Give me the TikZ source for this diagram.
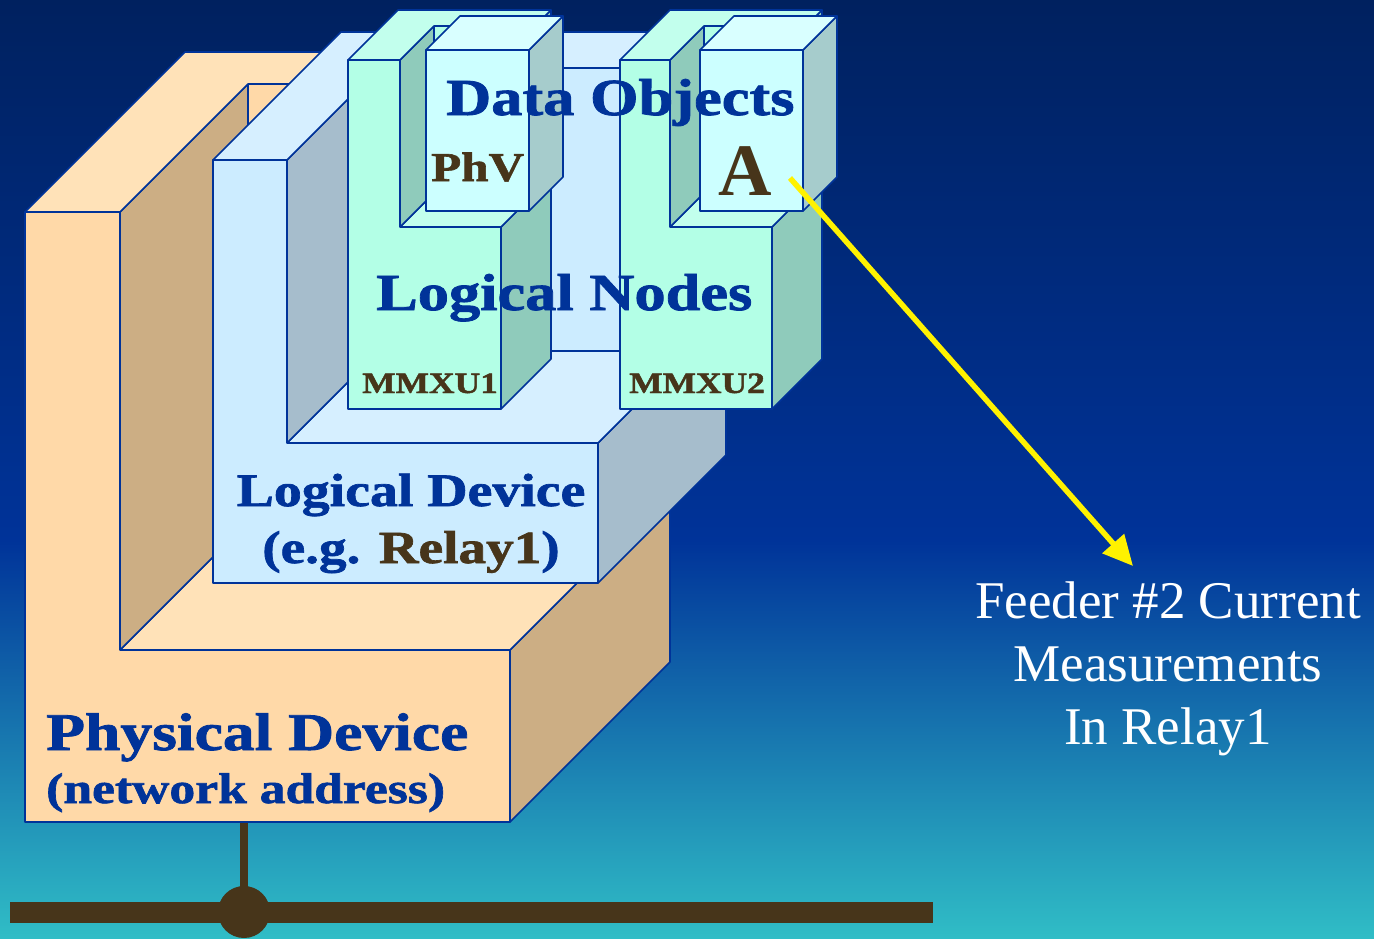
\documentclass[tikz,border=0pt]{standalone}
\usepackage{fontspec}
\usetikzlibrary{arrows.meta, positioning}

\newfontfamily\lblfont{Liberation Serif}[FakeStretch=1.2, BoldFeatures={FakeBold=1.5}]
\newfontfamily\plainfont{Liberation Serif}

\definecolor{rim}{HTML}{003399}
\definecolor{pdfront}{HTML}{FFD9A8}
\definecolor{pdtop}{HTML}{FFE2B8}
\definecolor{pdside}{HTML}{CCAE84}
\definecolor{ldfront}{HTML}{CCECFF}
\definecolor{ldtop}{HTML}{D6EFFF}
\definecolor{ldside}{HTML}{A6BDCC}
\definecolor{lnfront}{HTML}{B3FFE6}
\definecolor{lntop}{HTML}{C2FFED}
\definecolor{lnside}{HTML}{8FCBBB}
\definecolor{dofront}{HTML}{CCFFFF}
\definecolor{dotop}{HTML}{D9FFFF}
\definecolor{doside}{HTML}{A6CCCC}
\definecolor{lblblue}{HTML}{003399}
\definecolor{lblbrown}{HTML}{47351A}
\definecolor{skytop}{HTML}{00215F}
\definecolor{skymid}{HTML}{003399}
\definecolor{skylow}{HTML}{30BDC6}

\newcommand\chairshape[9]{%
    \filldraw[#9 side] (#5,#4) -- (#5+#8,#4-#8) -- (#5+#8,#2-#8) -- (#5+#7,#2-#7) -- (#5+#7,#6-#7) -- (#5,#6) -- cycle;
    \filldraw[#9 front] (#3+#8,#2-#8) rectangle (#5+#8,#4-#8);
    \filldraw[#9 top] (#3,#4) -- (#3+#8,#4-#8) -- (#5+#8,#4-#8) -- (#5,#4) -- cycle;
    \filldraw[#9 side] (#3,#2) -- (#3+#8,#2-#8) -- (#3+#8,#4-#8) -- (#3,#4) -- cycle;
    \filldraw[#9 top] (#1,#2) -- (#1+#7,#2-#7) -- (#5+#7,#2-#7) -- (#5+#8,#2-#8) -- (#3+#8,#2-#8) -- (#3,#2) -- cycle;
    \filldraw[#9 front] (#1,#2) -- (#3,#2) -- (#3,#4) -- (#5,#4) -- (#5,#6) -- (#1,#6) -- cycle;
}
\newcommand\dobox[5]{%
    \filldraw[do side] (#3,#2) -- (#3+#5,#2-#5) -- (#3+#5,#4-#5) -- (#3,#4) -- cycle;
    \filldraw[do top] (#1,#2) -- (#1+#5,#2-#5) -- (#3+#5,#2-#5) -- (#3,#2) -- cycle;
    \filldraw[do front] (#1,#2) rectangle (#3,#4);
}

\begin{document}
\begin{tikzpicture}[x=1pt, y=-1pt,
    face/.style={draw=rim, line width=1.6pt, line join=round},
    pd front/.style={face, fill=pdfront}, pd top/.style={face, fill=pdtop}, pd side/.style={face, fill=pdside},
    ld front/.style={face, fill=ldfront}, ld top/.style={face, fill=ldtop}, ld side/.style={face, fill=ldside},
    ln front/.style={face, fill=lnfront}, ln top/.style={face, fill=lntop}, ln side/.style={face, fill=lnside},
    do front/.style={face, fill=dofront}, do top/.style={face, fill=dotop}, do side/.style={face, fill=doside},
    lbl/.style={text=lblblue, inner sep=0pt, anchor=base west},
    tag/.style={text=lblbrown, inner sep=0pt, anchor=base west},
    bus/.style={draw=lblbrown},
    probearrow/.style={draw=yellow, fill=yellow, line width=5.5pt, -{Triangle[length=30pt, width=28pt]}}]

    \useasboundingbox (0,0) rectangle (1374,938);
    \shade[top color=skytop, bottom color=skymid] (0,0) rectangle (1374,541);
    \shade[top color=skymid, bottom color=skylow] (0,540) rectangle (1374,938);

    \coordinate (pdfoot) at (244,822);
    \coordinate (tap)    at (244,912);
    \coordinate (busw)   at (10,912);
    \coordinate (buse)   at (933,912);
    \draw[bus, line width=21pt] (busw) -- (buse);
    \draw[bus, line width=8pt] (pdfoot) -- (tap);
    \fill[lblbrown] (tap) circle (26);

    \chairshape{25}{212}{120}{650}{510}{822}{160}{128}{pd}
    \chairshape{213}{160}{287}{443}{598}{583}{128}{92}{ld}
    \chairshape{348}{60}{400}{227}{501}{409}{50}{34}{ln}
    \chairshape{620}{60}{670}{227}{772}{409}{50}{34}{ln}
    \dobox{426}{50}{529}{211}{34}
    \dobox{700}{50}{803}{211}{34}

    \node[lbl, font=\lblfont\bfseries\fontsize{52}{58}\selectfont] (dataobj) at (446,115) {Data Objects};
    \node[tag, font=\lblfont\bfseries\fontsize{41}{46}\selectfont] (phv)     at (431,181) {PhV};
    \node[tag, anchor=base, font=\plainfont\bfseries\fontsize{74}{80}\selectfont] (attr) at (745,195) {A};
    \node[lbl, font=\lblfont\bfseries\fontsize{52}{58}\selectfont] (lnodes)  at (376,310) {Logical Nodes};
    \node[tag, font=\lblfont\bfseries\fontsize{29.5}{34}\selectfont] (mmxu1) at (362,393) {MMXU1};
    \node[tag, font=\lblfont\bfseries\fontsize{29.5}{34}\selectfont] (mmxu2) at (629,393) {MMXU2};
    \node[lbl, anchor=base, font=\lblfont\bfseries\fontsize{46.5}{52}\selectfont] (ldev) at (411,506) {Logical Device};
    \node[lbl, anchor=base, font=\lblfont\bfseries\fontsize{46}{52}\selectfont] (ldeg) at (411,563) {(e.g. \textcolor{lblbrown}{Relay1})};
    \node[lbl, font=\lblfont\bfseries\fontsize{53}{60}\selectfont] (pdev)   at (46,750) {Physical Device};
    \node[lbl, font=\lblfont\bfseries\fontsize{43}{48}\selectfont] (pdaddr) at (46,803) {(network address)};

    \node[text=white, align=center, inner sep=0pt, font=\plainfont\fontsize{53}{63}\selectfont] (feeder) at (1168,669) {Feeder \#2 Current\\Measurements\\In Relay1};

    \coordinate (probe)   at (790,178);
    \coordinate (feedtip) at (1133,566);
    \draw[probearrow] (probe) -- (feedtip);
\end{tikzpicture}
\end{document}
